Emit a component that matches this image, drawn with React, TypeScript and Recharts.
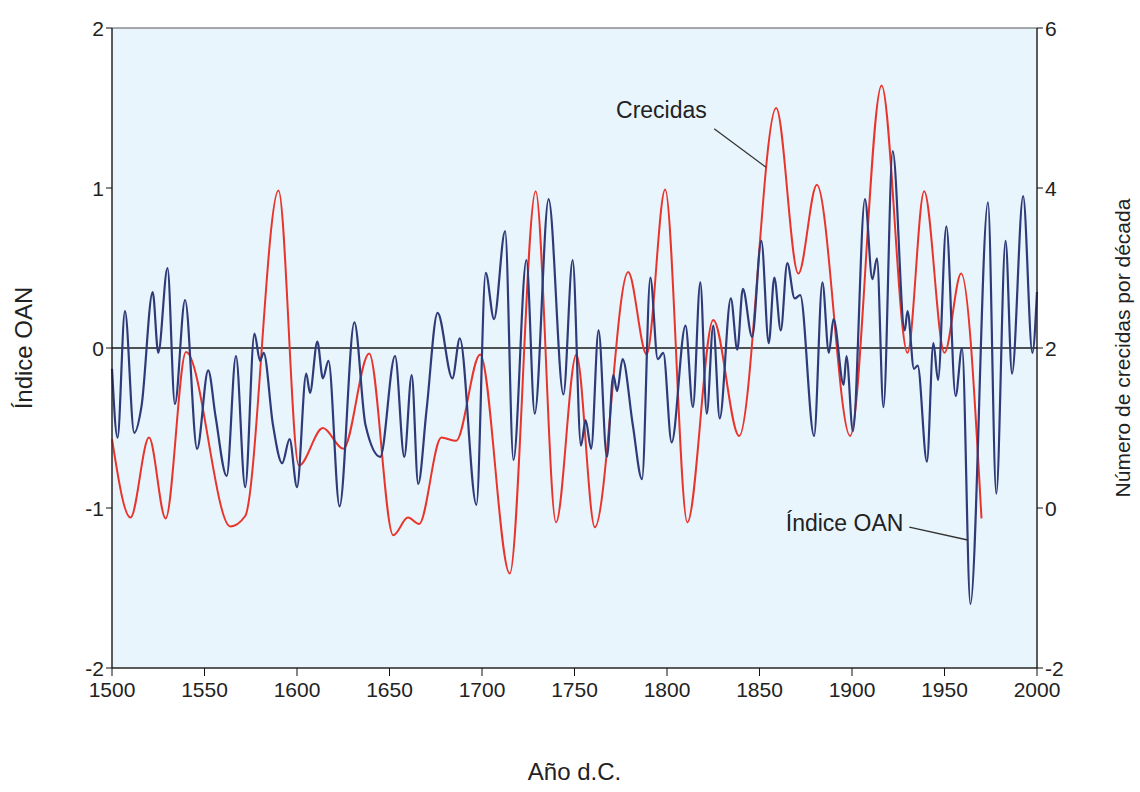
import React from "react";
import {
  LineChart,
  Line,
  XAxis,
  YAxis,
  ReferenceArea,
  ReferenceLine,
  ReferenceDot,
} from "recharts";

// Índice OAN (left axis)
const oanYears = [
  1500, 1503, 1507, 1512, 1516, 1522, 1525, 1530, 1534, 1539.5, 1546, 1552, 1556, 1562, 1567,
  1572, 1577, 1580, 1582, 1587, 1592, 1596, 1600, 1605, 1607, 1611, 1614, 1617, 1623, 1631,
  1637, 1645, 1653, 1658, 1662, 1665.5, 1670, 1676, 1684, 1688, 1697, 1702, 1706.5, 1712.5,
  1717, 1724, 1728.5, 1736, 1744, 1749, 1753.5, 1756, 1759, 1763, 1767.5, 1771, 1773, 1776,
  1781.5, 1786.5, 1791, 1795, 1798, 1802.5, 1810, 1814, 1818, 1821.5, 1825, 1828.5, 1834.5,
  1838, 1841, 1846, 1851, 1855, 1858, 1861.5, 1865, 1869, 1872, 1879.5, 1884, 1887.5, 1890,
  1895.5, 1897, 1900.5, 1907, 1911, 1913.5, 1917, 1922, 1928.5, 1930, 1933.5, 1935.5, 1940.5,
  1944, 1946.5, 1951, 1956, 1959.5, 1964, 1973.5, 1978, 1983, 1986.5, 1992.5, 1997.5, 2000,
];
const oanValues = [
  -0.13, -0.56, 0.23, -0.53, -0.36, 0.35, -0.03, 0.5, -0.35, 0.3, -0.63, -0.14, -0.43, -0.8, -0.05,
  -0.87, 0.09, -0.08, -0.03, -0.48, -0.72, -0.57, -0.87, -0.16, -0.28, 0.04, -0.19, -0.08, -0.99, 0.16,
  -0.48, -0.68, -0.05, -0.68, -0.17, -0.85, -0.39, 0.22, -0.19, 0.06, -0.98, 0.47, 0.18, 0.73,
  -0.7, 0.55, -0.41, 0.93, -0.29, 0.55, -0.61, -0.45, -0.63, 0.11, -0.68, -0.17, -0.27, -0.07,
  -0.48, -0.82, 0.44, -0.07, -0.03, -0.59, 0.14, -0.37, 0.41, -0.41, 0.14, -0.44, 0.31,
  -0.01, 0.37, 0.07, 0.67, 0.03, 0.44, 0.11, 0.53, 0.31, 0.33, -0.55, 0.41, -0.03, 0.18,
  -0.23, -0.05, -0.52, 0.93, 0.43, 0.56, -0.37, 1.23, 0.11, 0.23, -0.13, -0.11, -0.71,
  0.03, -0.2, 0.76, -0.3, 0.0, -1.6, 0.91, -0.91, 0.67, -0.16, 0.95, -0.03, 0.35,
];

// Crecidas, número por década (right axis)
const crecidasYears = [
  1500, 1510, 1520, 1529, 1540, 1564, 1572, 1590, 1601, 1614, 1625, 1639, 1652, 1660, 1666,
  1678, 1686, 1699, 1715, 1729, 1740, 1751, 1761, 1779, 1789, 1799, 1811, 1825, 1839, 1859,
  1871, 1881, 1899, 1916, 1930, 1939, 1950, 1959, 1970,
];
const crecidasValues = [
  0.86, -0.12, 0.88, -0.13, 1.95, -0.23, -0.1, 3.97, 0.53, 1.0, 0.74, 1.93, -0.34, -0.12, -0.2,
  0.88, 0.84, 1.92, -0.82, 3.96, -0.18, 1.92, -0.24, 2.95, 1.92, 3.98, -0.18, 2.35, 0.9, 5.0,
  2.93, 4.04, 0.9, 5.28, 1.94, 3.96, 1.94, 2.93, -0.13,
];

const xTicks = [1500, 1550, 1600, 1650, 1700, 1750, 1800, 1850, 1900, 1950, 2000];
const leftTicks = [-2, -1, 0, 1, 2];
const rightTicks = [-2, 0, 2, 4, 6];

const oanData = oanYears.map((year, i) => ({ year, v: oanValues[i] }));
const crecidasData = crecidasYears.map((year, i) => ({ year, v: crecidasValues[i] }));

const font = "'Liberation Sans', Arial, sans-serif";

// custom tick so the font size really sticks
const TickText = (props: any) => {
  const { x, y, payload, textAnchor, orientation } = props;
  const dy = orientation === "bottom" ? "0.75em" : "0.36em";
  return (
    <text x={x} y={y} dy={dy} textAnchor={textAnchor} fontSize={21} fill="#222" fontFamily={font}>
      {payload.value}
    </text>
  );
};

export default function App() {
  return (
    <div style={{ position: "absolute", left: 0, top: 0, background: "#fff" }}>
      <LineChart
        width={1140}
        height={792}
        margin={{ top: 28, right: 0, left: 0, bottom: 0 }}
        style={{ fontFamily: font }}
      >
        <XAxis
          dataKey="year"
          type="number"
          domain={[1500, 2000]}
          ticks={xTicks}
          height={124}
          tick={<TickText />}
          tickSize={8}
          tickMargin={5}
          stroke="#111"
          label={{ value: "Año d.C.", position: "insideBottom", offset: 12, fontSize: 24, fill: "#222" }}
        />
        <YAxis
          yAxisId="left"
          domain={[-2, 2]}
          ticks={leftTicks}
          width={112}
          tick={<TickText />}
          tickSize={6}
          stroke="#111"
          label={{
            value: "Índice OAN",
            angle: -90,
            position: "insideLeft",
            offset: 23,
            fontSize: 24,
            fill: "#222",
            style: { textAnchor: "middle" },
          }}
        />
        <YAxis
          yAxisId="right"
          orientation="right"
          domain={[-2, 6]}
          ticks={rightTicks}
          width={103}
          tick={<TickText />}
          tickSize={6}
          stroke="#111"
          label={{
            value: "Número de crecidas por década",
            angle: -90,
            position: "insideRight",
            offset: 17,
            fontSize: 21,
            fill: "#222",
            style: { textAnchor: "middle" },
          }}
        />
        <ReferenceArea
          yAxisId="left"
          x1={1500}
          x2={2000}
          y1={-2}
          y2={2}
          fill="#e8f5fc"
          fillOpacity={1}
          stroke="#555"
        />
        <ReferenceLine yAxisId="left" y={0} stroke="#1a1a1a" strokeWidth={1.5} />
        <Line
          yAxisId="right"
          data={crecidasData}
          dataKey="v"
          type="monotone"
          stroke="#e8352c"
          strokeWidth={2}
          dot={false}
          isAnimationActive={false}
        />
        <Line
          yAxisId="left"
          data={oanData}
          dataKey="v"
          type="monotone"
          stroke="#2f3a78"
          strokeWidth={2.2}
          dot={false}
          isAnimationActive={false}
        />
        <ReferenceLine
          yAxisId="left"
          segment={[{ x: 1825.5, y: 1.37 }, { x: 1853.5, y: 1.13 }]}
          stroke="#333"
          strokeWidth={1.3}
        />
        <ReferenceLine
          yAxisId="left"
          segment={[{ x: 1931, y: -1.12 }, { x: 1962.5, y: -1.2 }]}
          stroke="#333"
          strokeWidth={1.3}
        />
        <ReferenceDot
          yAxisId="left"
          x={1797}
          y={1.49}
          r={0}
          fill="none"
          stroke="none"
          label={{ value: "Crecidas", position: "center", fontSize: 23, fill: "#222" }}
        />
        <ReferenceDot
          yAxisId="left"
          x={1896}
          y={-1.09}
          r={0}
          fill="none"
          stroke="none"
          label={{ value: "Índice OAN", position: "center", fontSize: 23, fill: "#222" }}
        />
      </LineChart>
    </div>
  );
}
